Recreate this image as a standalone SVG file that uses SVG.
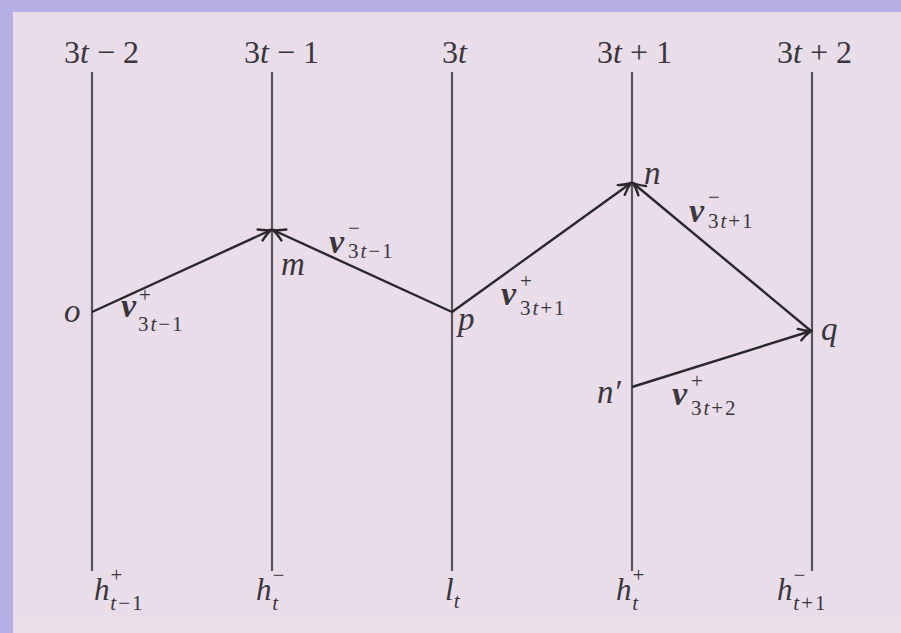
<svg xmlns="http://www.w3.org/2000/svg" width="901" height="633" viewBox="0 0 901 633">
  <style>
    .axis { stroke: #58565c; stroke-width: 2.2; fill: none; }
    .conn { stroke: #2a282c; stroke-width: 2.4; fill: none; }
    .t { font-family: "Liberation Serif", "DejaVu Serif", serif; fill: #39363c; }
    .top { font-size: 32px; }
    .pt { font-size: 33px; font-style: italic; }
    .v { font-size: 34px; font-style: italic; font-weight: bold; }
    .sub { font-size: 21px; font-weight: normal; }
    .ls { letter-spacing: 2px; }
    .bot { font-size: 31px; font-style: italic; }
    .it { font-style: italic; }
    .up { font-style: normal; }
  </style>
  <defs>
    <marker id="ah" viewBox="-14 -8 16 16" refX="0" refY="0" markerWidth="16" markerHeight="16" orient="auto" markerUnits="userSpaceOnUse">
      <path d="M-12,-6 Q-5,-1.5 0,0 Q-5,1.5 -12,6" fill="none" stroke="#2a282c" stroke-width="2.4" stroke-linecap="round"/>
    </marker>
  </defs>

  <!-- frame -->
  <rect x="0" y="0" width="901" height="633" fill="#b6afe6"/>
  <rect x="13" y="12" width="888" height="621" fill="#e8dde9"/>
  <rect x="13" y="618" width="888" height="15" fill="#eadfe6"/>

  <!-- columns -->
  <g id="col-3t-2">
    <text class="t top" x="64" y="63">3<tspan class="it">t</tspan> − 2</text>
    <line class="axis" x1="92" y1="72" x2="92" y2="571"/>
    <text class="t bot" x="94" y="600">h<tspan class="sub up" dx="1" dy="-18">+</tspan><tspan class="sub it ls" dx="-12" dy="28">t</tspan><tspan class="sub up ls">−1</tspan></text>
  </g>
  <g id="col-3t-1">
    <text class="t top" x="244" y="63">3<tspan class="it">t</tspan> − 1</text>
    <line class="axis" x1="272" y1="72" x2="272" y2="571"/>
    <text class="t bot" x="256" y="600">h<tspan class="sub up" dx="1" dy="-18">−</tspan><tspan class="sub it" dx="-12" dy="28">t</tspan></text>
  </g>
  <g id="col-3t">
    <text class="t top" x="442" y="63">3<tspan class="it">t</tspan></text>
    <line class="axis" x1="452" y1="72" x2="452" y2="571"/>
    <text class="t bot" x="445" y="600">l<tspan class="sub it" dy="8">t</tspan></text>
  </g>
  <g id="col-3t+1">
    <text class="t top" x="597" y="63">3<tspan class="it">t</tspan> + 1</text>
    <line class="axis" x1="632" y1="72" x2="632" y2="571"/>
    <text class="t bot" x="616" y="600">h<tspan class="sub up" dx="1" dy="-18">+</tspan><tspan class="sub it" dx="-12" dy="28">t</tspan></text>
  </g>
  <g id="col-3t+2">
    <text class="t top" x="777" y="63">3<tspan class="it">t</tspan> + 2</text>
    <line class="axis" x1="812" y1="72" x2="812" y2="571"/>
    <text class="t bot" x="777" y="600">h<tspan class="sub up" dx="1" dy="-18">−</tspan><tspan class="sub it ls" dx="-12" dy="28">t</tspan><tspan class="sub up ls">+1</tspan></text>
  </g>

  <!-- connectors -->
  <g id="connectors">
    <line class="conn" x1="92" y1="312" x2="271" y2="230" marker-end="url(#ah)"/>
    <line class="conn" x1="452" y1="312" x2="273" y2="230" marker-end="url(#ah)"/>
    <line class="conn" x1="452" y1="312" x2="631" y2="183" marker-end="url(#ah)"/>
    <line class="conn" x1="811" y1="331" x2="633" y2="183" marker-end="url(#ah)"/>
    <line class="conn" x1="632" y1="387" x2="811" y2="331" marker-end="url(#ah)"/>
    <text class="t v" x="121" y="317">v<tspan class="sub up" dx="3" dy="-15">+</tspan><tspan class="sub up ls" dx="-13" dy="29">3</tspan><tspan class="sub it ls">t</tspan><tspan class="sub up ls">−1</tspan></text>
    <text class="t v" x="329" y="253">v<tspan class="sub up" dx="4" dy="-18">−</tspan><tspan class="sub up ls" dx="-12" dy="23">3</tspan><tspan class="sub it ls">t</tspan><tspan class="sub up ls">−1</tspan></text>
    <text class="t v" x="501" y="305">v<tspan class="sub up" dx="4" dy="-17">+</tspan><tspan class="sub up ls" dx="-12" dy="27">3</tspan><tspan class="sub it ls">t</tspan><tspan class="sub up ls">+1</tspan></text>
    <text class="t v" x="689" y="222">v<tspan class="sub up" dx="4" dy="-18">−</tspan><tspan class="sub up ls" dx="-12" dy="24">3</tspan><tspan class="sub it ls">t</tspan><tspan class="sub up ls">+1</tspan></text>
    <text class="t v" x="672" y="405">v<tspan class="sub up" dx="4" dy="-17">+</tspan><tspan class="sub up ls" dx="-12" dy="27">3</tspan><tspan class="sub it ls">t</tspan><tspan class="sub up ls">+2</tspan></text>
  </g>

  <!-- points -->
  <g id="node-o"><text class="t pt" x="64" y="322">o</text></g>
  <g id="node-m"><text class="t pt" x="281" y="275">m</text></g>
  <g id="node-p"><text class="t pt" x="458" y="330">p</text></g>
  <g id="node-n"><text class="t pt" x="644" y="184">n</text></g>
  <g id="node-q"><text class="t pt" x="821" y="340">q</text></g>
  <g id="node-n-prime"><text class="t pt" x="597" y="403">n′</text></g>
</svg>
